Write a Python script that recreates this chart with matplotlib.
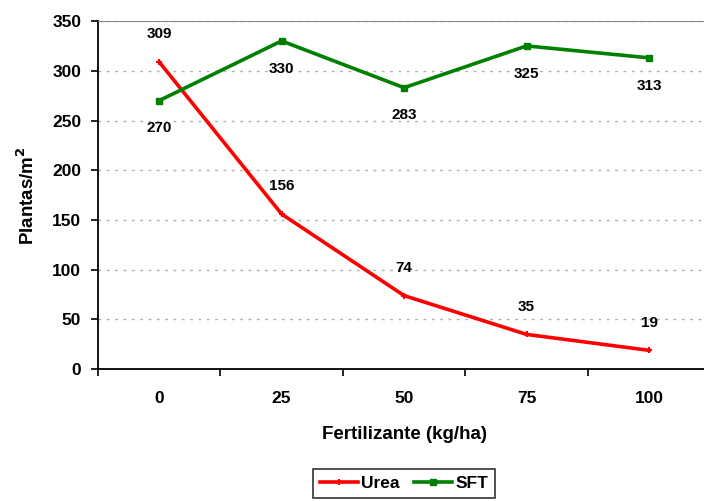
import matplotlib.pyplot as plt

plt.rcParams['font.family'] = ['Liberation Sans', 'DejaVu Sans']
plt.rcParams['font.weight'] = 'bold'

# data
doses = ['0', '25', '50', '75', '100']
urea = [309, 156, 74, 35, 19]
sft = [270, 330, 283, 325, 313]

fig = plt.figure(figsize=(7.04, 5.01), dpi=100)
ax = fig.add_axes([0.139, 0.263, 0.87, 0.695])

x = range(len(doses))
ax.plot(x, urea, color='#ff0000', lw=2.6, marker='+', ms=5, mew=1.5, label='Urea')
ax.plot(x, sft, color='#008000', lw=2.6, marker='s', ms=4, label='SFT')

for i, v in enumerate(urea):
    ax.annotate(str(v), (i, v), xytext=(0, 20), textcoords='offset points',
                ha='center', va='center', fontsize=11, fontweight='bold')
for i, v in enumerate(sft):
    ax.annotate(str(v), (i, v), xytext=(0, -20), textcoords='offset points',
                ha='center', va='center', fontsize=11, fontweight='bold')

ax.set_xlim(-0.5, 4.5)
ax.set_ylim(0, 350)
ax.set_yticks(range(0, 351, 50))
ax.set_xticks(list(x))
ax.set_xticklabels(doses)
ax.set_xticks([i - 0.5 for i in range(6)], minor=True)
ax.tick_params(axis='x', which='major', length=0, pad=16, labelsize=12.5)
ax.tick_params(axis='x', which='minor', length=5, width=1.2, direction='out')
ax.tick_params(axis='y', length=5, width=1.2, labelsize=12.5, pad=7)

ax.grid(axis='y', color='#b0b0b0', linestyle=(0, (2, 4)), lw=1)
ax.spines['right'].set_visible(False)
ax.spines['top'].set_color('#888888')
ax.spines['left'].set_linewidth(1.3)
ax.spines['bottom'].set_linewidth(1.3)

ax.set_xlabel('Fertilizante (kg/ha)', fontsize=13.5, fontweight='bold', labelpad=14)
ax.set_ylabel('Plantas/m$^2$', fontsize=13.5, fontweight='bold', labelpad=10)

leg = ax.legend(loc='upper center', bbox_to_anchor=(0.5, -0.262), ncol=2,
                frameon=True, fancybox=False, edgecolor='black', fontsize=12.5,
                handlelength=2.2, columnspacing=0.8, handletextpad=0.2,
                borderpad=0.4)
leg.get_frame().set_linewidth(1.2)

fig.savefig('out.png', dpi=100)
